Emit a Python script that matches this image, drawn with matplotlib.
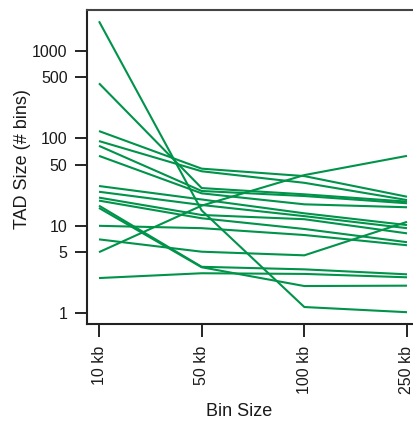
import matplotlib.pyplot as plt

plt.rcParams['font.family'] = ['Liberation Sans', 'DejaVu Sans']

# x categories
bin_labels = ['10 kb', '50 kb', '100 kb', '250 kb']

# TAD sizes (# bins) for each sample at each bin size
size_10kb = [2173, 425, 121, 93, 82, 63, 28.5, 24.5, 21, 19.4, 17, 16, 10, 7, 5, 2.53]
size_50kb = [15, 27, 45, 42, 25, 23.5, 20, 17.3, 13.3, 12.2, 3.4, 3.36, 9.4, 5.06, 17, 2.87]
size_100kb = [1.18, 22.9, 37, 31, 21.9, 17.6, 13.9, 12.9, 11.9, 9.2, 3.18, 2.05, 7.85, 4.6, 38, 2.82]
size_250kb = [1.03, 18.9, 21.5, 19.7, 18.1, 16.3, 10.2, 9.4, 8.2, 6.5, 2.79, 2.07, 6.0, 11.1, 63, 2.58]

y_ticks = [1, 5, 10, 50, 100, 500, 1000]

green = '#00934A'

fig = plt.figure(figsize=(4.13, 4.24), dpi=100)
ax = fig.add_axes([87 / 413, 1 - 324 / 424, 332 / 413, 314 / 424])

xs = range(1, len(bin_labels) + 1)
for row in zip(size_10kb, size_50kb, size_100kb, size_250kb):
    ax.plot(xs, row, color=green, linewidth=1.5, solid_capstyle='butt')

ax.set_yscale('log')
ax.set_ylim(0.755, 2926)
ax.set_xlim(1 - 12 / 102.6, 4 + 12 / 102.6)

ax.set_yticks(y_ticks)
ax.set_yticklabels([str(t) for t in y_ticks])
ax.yaxis.set_minor_locator(plt.NullLocator())
ax.set_xticks(list(xs))
ax.set_xticklabels(bin_labels, rotation=90, va='top')

ax.tick_params(axis='both', direction='out', length=9, width=1.2, color='black',
               labelsize=11.5, labelcolor='#1a1a1a')
ax.tick_params(axis='y', pad=5)
ax.tick_params(axis='x', pad=7)

for side in ['left', 'bottom', 'right']:
    ax.spines[side].set_linewidth(1.5)
    ax.spines[side].set_color('#222222')
ax.spines['top'].set_linewidth(1.5)
ax.spines['top'].set_color('#444444')

fig.text(239 / 413, 1 - 412 / 424, 'Bin Size', ha='center', va='center',
         fontsize=13, color='#1a1a1a')
fig.text(23 / 413, 1 - 159 / 424, 'TAD Size (# bins)', ha='center', va='center',
         rotation=90, fontsize=13, color='#1a1a1a')

fig.savefig('out.png', dpi=100)
